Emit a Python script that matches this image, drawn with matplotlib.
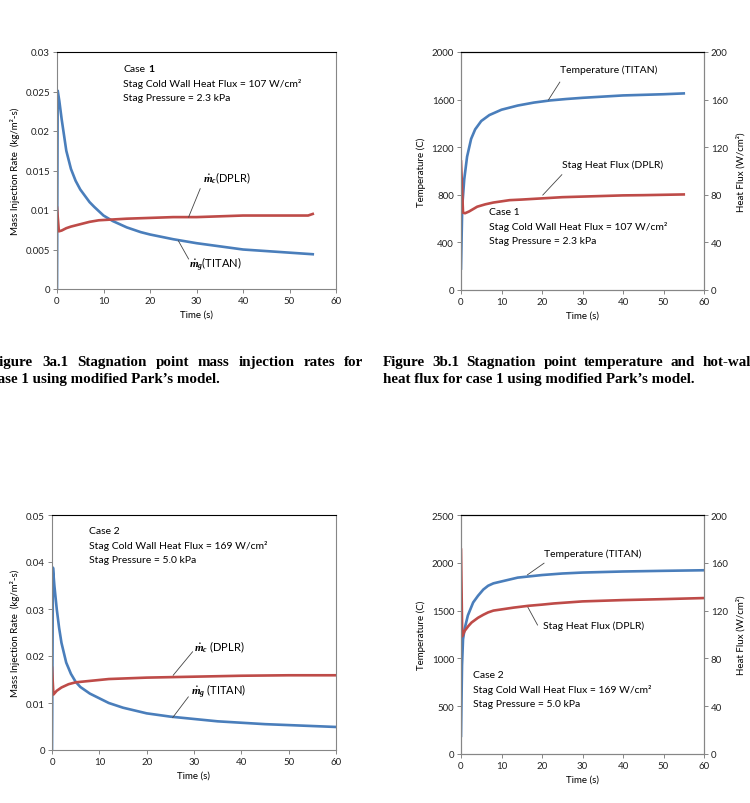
import matplotlib
matplotlib.use("Agg")
import matplotlib.pyplot as plt

plt.rcParams["font.family"] = ["Lato", "DejaVu Sans"]
plt.rcParams["mathtext.fontset"] = "custom"
plt.rcParams["mathtext.it"] = "Liberation Serif:italic:bold"
plt.rcParams["mathtext.rm"] = "Liberation Serif:bold"

BLUE = "#4a7ebb"
RED = "#be4b48"
GRAY = "#868686"

# ---- case 1, mass injection rates (kg/m2-s) ----
t_mg1 = [0, 0.15, 0.5, 1, 2, 3, 4, 5, 6, 7, 8, 10, 12, 15, 18, 20, 25, 30, 35, 40, 45, 50, 55]
mg1 = [0, 0.0251, 0.0238, 0.0215, 0.0175, 0.0152, 0.0137, 0.0126, 0.0118, 0.0110, 0.0104,
       0.0093, 0.0086, 0.0078, 0.0072, 0.0069, 0.0063, 0.0058, 0.0054, 0.0050, 0.0048, 0.0046, 0.0044]
t_mc1 = [0, 0.4, 1, 2, 3, 5, 7, 9, 12, 15, 20, 25, 30, 35, 40, 45, 50, 54, 55]
mc1 = [0.0103, 0.0073, 0.0074, 0.0077, 0.0079, 0.0082, 0.0085, 0.0087, 0.0088, 0.0089,
       0.0090, 0.0091, 0.0091, 0.0092, 0.0093, 0.0093, 0.0093, 0.0093, 0.0095]

# ---- case 1, temperature (C) and heat flux (W/cm2) ----
t_T1 = [0, 0.3, 0.8, 1.5, 2.5, 3.5, 5, 7, 10, 14, 18, 22, 26, 30, 35, 40, 45, 50, 55]
T1 = [180, 700, 930, 1120, 1270, 1350, 1420, 1470, 1515, 1550, 1575, 1593, 1605, 1615,
      1625, 1635, 1640, 1645, 1652]
t_q1 = [0, 0.5, 1, 2, 3, 4, 6, 8, 10, 12, 15, 20, 25, 30, 35, 40, 45, 50, 55]
q1 = [108, 65, 64.5, 66, 68, 70, 72, 73.5, 74.5, 75.5, 76, 77, 78, 78.5, 79, 79.5, 79.7, 80, 80.3]

# ---- case 2, mass injection rates ----
t_mg2 = [0, 0.2, 0.5, 1, 1.5, 2, 3, 4, 5, 6, 8, 10, 12, 15, 20, 25, 30, 35, 40, 45, 50, 55, 60]
mg2 = [0, 0.0388, 0.0350, 0.0300, 0.0260, 0.0228, 0.0186, 0.0162, 0.0145, 0.0134, 0.0120,
       0.0110, 0.0100, 0.0090, 0.0078, 0.0071, 0.0066, 0.0061, 0.0058, 0.0055, 0.0053, 0.0051, 0.0049]
t_mc2 = [0, 0.3, 1, 2, 3.5, 5, 8, 12, 20, 30, 40, 50, 60]
mc2 = [0.0175, 0.0118, 0.0126, 0.0133, 0.0140, 0.0144, 0.0147, 0.0151, 0.0154, 0.0156,
       0.0158, 0.0159, 0.0159]

# ---- case 2, temperature and heat flux ----
t_T2 = [0, 0.25, 0.5, 0.9, 1.7, 3, 4.2, 5.5, 6.7, 8, 10, 14, 20, 25, 30, 40, 50, 60]
T2 = [190, 925, 1200, 1310, 1450, 1585, 1655, 1720, 1760, 1785, 1805, 1845, 1872, 1888,
      1898, 1909, 1916, 1922]
t_q2 = [0, 0.3, 0.9, 1.8, 2.6, 4.2, 5.5, 6.7, 8, 10, 13, 16.6, 20, 23, 30, 40, 50, 60]
q2 = [171, 98.5, 103, 107, 110, 114, 116.5, 118.5, 120, 121, 122.5, 124, 125, 126, 127.7,
      128.8, 129.6, 130.5]

x_ticks = [0, 10, 20, 30, 40, 50, 60]
mass1_ticks = [0, 0.005, 0.01, 0.015, 0.02, 0.025, 0.03]
mass1_labels = ["0", "0.005", "0.01", "0.015", "0.02", "0.025", "0.03"]
mass2_ticks = [0, 0.01, 0.02, 0.03, 0.04, 0.05]
mass2_labels = ["0", "0.01", "0.02", "0.03", "0.04", "0.05"]
temp1_ticks = [0, 400, 800, 1200, 1600, 2000]
temp2_ticks = [0, 500, 1000, 1500, 2000, 2500]
flux_ticks = [0, 40, 80, 120, 160, 200]

caption_a = ["Figure 3a.1 Stagnation point mass injection rates for",
             "case 1 using modified Park\u2019s model."]
caption_b = ["Figure 3b.1 Stagnation point temperature and hot-wall",
             "heat flux for case 1 using modified Park\u2019s model."]

TICK_FS = 7
TEXT_FS = 7.5
LW = 1.9
W, H = 750, 804


def style_axes(ax):
    ax.spines["top"].set_color("black")
    ax.spines["top"].set_linewidth(0.8)
    for s in ["left", "bottom", "right"]:
        ax.spines[s].set_color(GRAY)
        ax.spines[s].set_linewidth(0.8)
    ax.tick_params(direction="out", length=3, width=0.7, color=GRAY,
                   labelsize=TICK_FS, pad=2, labelcolor="#222222")
    ax.set_xlim(0, 60)
    ax.set_xticks(x_ticks)
    ax.set_xlabel("Time (s)", fontsize=TICK_FS, labelpad=3)


def leader(ax, x0, y0, x1, y1):
    ax.plot([x0, x1], [y0, y1], color="#444444", lw=0.6)


def case_text(ax, x, y, dy, case_label, flux, press):
    ax.text(x, y, case_label, fontsize=TEXT_FS, va="center")
    ax.text(x, y - dy, "Stag Cold Wall Heat Flux = " + flux + " W/cm\u00b2", fontsize=TEXT_FS, va="center")
    ax.text(x, y - 2 * dy, "Stag Pressure = " + press + " kPa", fontsize=TEXT_FS, va="center")


def justified(fig, x0, x1, y, line, **kw):
    # spread the words of one caption line between x0 and x1 (pixels)
    r = fig.canvas.get_renderer()
    words = line.split()
    texts = [fig.text(0, 1 - y / H, w, ha="left", **kw) for w in words]
    widths = [t.get_window_extent(r).width for t in texts]
    gap = (x1 - x0 - sum(widths)) / (len(words) - 1)
    x = x0
    for t, w in zip(texts, widths):
        t.set_x(x / W)
        x += w + gap


fig = plt.figure(figsize=(7.5, 8.04), dpi=100)

# panel 3a.1
ax1 = fig.add_axes([57 / W, 1 - 290 / H, 279 / W, 237 / H])
style_axes(ax1)
ax1.plot(t_mg1, mg1, color=BLUE, lw=LW)
ax1.plot(t_mc1, mc1, color=RED, lw=LW)
ax1.set_ylim(0, 0.03)
ax1.set_yticks(mass1_ticks, mass1_labels)
ax1.set_ylabel("Mass Injection Rate  (kg/m\u00b2-s)", fontsize=TICK_FS, labelpad=4)
ax1.annotate("Case", (14.2, 0.0279), fontsize=TEXT_FS, va="center")
ax1.annotate("1", (14.2, 0.0279), xytext=(18, 0), textcoords="offset points",
             fontsize=TEXT_FS, va="center", fontweight="bold")
ax1.text(14.2, 0.0261, "Stag Cold Wall Heat Flux = 107 W/cm\u00b2", fontsize=TEXT_FS, va="center")
ax1.text(14.2, 0.0243, "Stag Pressure = 2.3 kPa", fontsize=TEXT_FS, va="center")
leader(ax1, 28.3, 0.0091, 30.8, 0.0127)
ax1.text(31.3, 0.0142, r"$\dot{m}_c$(DPLR)", fontsize=TEXT_FS + 0.5, va="center")
leader(ax1, 26.1, 0.0061, 28.3, 0.0038)
ax1.text(28.3, 0.0032, r"$\dot{m}_g$(TITAN)", fontsize=TEXT_FS + 0.5, va="center")

# panel 3b.1
ax2 = fig.add_axes([461 / W, 1 - 291 / H, 243 / W, 238 / H])
style_axes(ax2)
ax2.plot(t_T1, T1, color=BLUE, lw=LW)
ax2.set_ylim(0, 2000)
ax2.set_yticks(temp1_ticks)
ax2.set_ylabel("Temperature (C)", fontsize=TICK_FS, labelpad=4)
ax2r = ax2.twinx()
style_axes(ax2r)
ax2r.plot(t_q1, q1, color=RED, lw=LW)
ax2r.set_ylim(0, 200)
ax2r.set_yticks(flux_ticks)
ax2r.set_ylabel("Heat Flux (W/cm\u00b2)", fontsize=TICK_FS, labelpad=6)
leader(ax2, 21.6, 1598, 24.4, 1747)
ax2.text(24.4, 1854, "Temperature (TITAN)", fontsize=TEXT_FS, va="center")
leader(ax2, 20.2, 798, 24.9, 969)
ax2.text(25.0, 1059, "Stag Heat Flux (DPLR)", fontsize=TEXT_FS, va="center")
case_text(ax2, 7.0, 660, 120, "Case 1", "107", "2.3")

# panel 3a.2
ax3 = fig.add_axes([52 / W, 1 - 751 / H, 284 / W, 235 / H])
style_axes(ax3)
ax3.plot(t_mg2, mg2, color=BLUE, lw=LW)
ax3.plot(t_mc2, mc2, color=RED, lw=LW)
ax3.set_ylim(0, 0.05)
ax3.set_yticks(mass2_ticks, mass2_labels)
ax3.set_ylabel("Mass Injection Rate  (kg/m\u00b2-s)", fontsize=TICK_FS, labelpad=4)
case_text(ax3, 7.8, 0.0468, 0.0031, "Case 2", "169", "5.0")
leader(ax3, 25.6, 0.0159, 29.7, 0.0209)
ax3.text(30.0, 0.0221, r"$\dot{m}_c$ (DPLR)", fontsize=TEXT_FS + 0.5, va="center")
leader(ax3, 25.5, 0.0069, 28.8, 0.0113)
ax3.text(29.4, 0.0126, r"$\dot{m}_g$ (TITAN)", fontsize=TEXT_FS + 0.5, va="center")

# panel 3b.2
ax4 = fig.add_axes([461 / W, 1 - 755 / H, 243 / W, 239 / H])
style_axes(ax4)
ax4.plot(t_T2, T2, color=BLUE, lw=LW)
ax4.set_ylim(0, 2500)
ax4.set_yticks(temp2_ticks)
ax4.set_ylabel("Temperature (C)", fontsize=TICK_FS, labelpad=4)
ax4r = ax4.twinx()
style_axes(ax4r)
ax4r.plot(t_q2, q2, color=RED, lw=LW)
ax4r.set_ylim(0, 200)
ax4r.set_yticks(flux_ticks)
ax4r.set_ylabel("Heat Flux (W/cm\u00b2)", fontsize=TICK_FS, labelpad=6)
leader(ax4, 16.4, 1874, 20.5, 1996)
ax4.text(20.5, 2100, "Temperature (TITAN)", fontsize=TEXT_FS, va="center")
leader(ax4, 16.4, 1544, 18.9, 1349)
ax4.text(20.3, 1342, "Stag Heat Flux (DPLR)", fontsize=TEXT_FS, va="center")
case_text(ax4, 3.05, 831, 149, "Case 2", "169", "5.0")

# captions (the page is cropped, so they run past both edges)
cap = dict(fontsize=10.8, family="Liberation Serif", fontweight="bold", va="center")
justified(fig, -9, 363, 363, caption_a[0], **cap)
fig.text(-9 / W, 1 - 380 / H, caption_a[1], **cap)
justified(fig, 383, 755, 363, caption_b[0], **cap)
fig.text(383 / W, 1 - 380 / H, caption_b[1], **cap)

fig.savefig("out.png", dpi=100)
